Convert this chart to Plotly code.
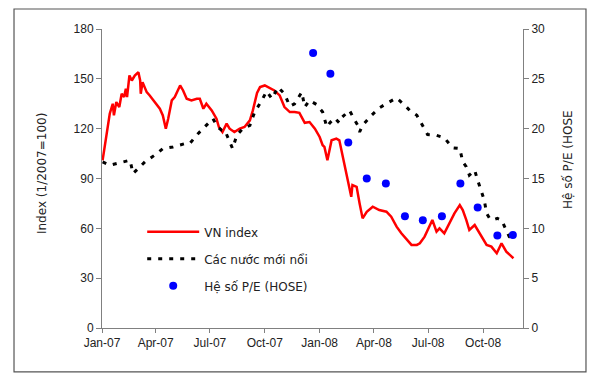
import plotly.graph_objects as go

# VN index (1/2007 = 100)
vn_dates = ["2007-01-02","2007-01-06","2007-01-11","2007-01-14","2007-01-19","2007-01-21","2007-01-25","2007-01-30",
            "2007-02-03","2007-02-07","2007-02-10","2007-02-12","2007-02-16","2007-02-20","2007-02-25","2007-03-03",
            "2007-03-06","2007-03-07","2007-03-10","2007-03-17","2007-03-22","2007-03-28","2007-04-03","2007-04-08",
            "2007-04-13","2007-04-18","2007-04-22","2007-04-28","2007-05-03","2007-05-12","2007-05-17","2007-05-23",
            "2007-05-31","2007-06-09","2007-06-14","2007-06-20","2007-06-25","2007-07-04","2007-07-12","2007-07-16",
            "2007-07-22","2007-07-29","2007-08-03","2007-08-11","2007-08-20","2007-08-28","2007-09-06","2007-09-11",
            "2007-09-18","2007-09-23","2007-10-01","2007-10-09","2007-10-17","2007-10-26","2007-11-03","2007-11-12",
            "2007-11-20","2007-11-28","2007-12-07","2007-12-15","2007-12-24","2008-01-01","2008-01-06","2008-01-09",
            "2008-01-14","2008-01-21","2008-01-29","2008-02-03","2008-02-08","2008-02-15","2008-02-23","2008-02-25",
            "2008-03-03","2008-03-08","2008-03-13","2008-03-20","2008-03-30","2008-04-10","2008-04-22","2008-04-30",
            "2008-05-09","2008-05-17","2008-05-26","2008-06-03","2008-06-12","2008-06-17","2008-06-25","2008-07-03",
            "2008-07-08","2008-07-15","2008-07-20","2008-07-28","2008-08-06","2008-08-14","2008-08-23","2008-08-28",
            "2008-09-03","2008-09-08","2008-09-17","2008-09-25","2008-09-30","2008-10-07","2008-10-15","2008-10-24",
            "2008-11-01","2008-11-09","2008-11-18","2008-11-21"]
vn_values = [101,111,121,129,135,128,136,133,
             141,139,144,139,152,149,152,154,
             149,141,148,142,140,137,134,132,
             128,120,126,137,139,146,143,138,
             137,138,138,132,135,131,126,121,
             118,123,120,118,120,121,125,131,
             141.5,145,146,144.5,143,140,133,130,
             130,129.5,123.5,124,120,115,110,109,
             101,113,114,113,104,93,79,86,
             85,75,66,70,73,71,70,67,
             61,57,53,50,50,51,55,61,
             65,58,60,57,63,69,74,71,
             65,59,62,57,54,50,49,45,
             51,46,43,42]

# Emerging markets index (Các nước mới nổi)
em_dates = ["2007-01-02","2007-01-14","2007-01-31","2007-02-17","2007-02-22","2007-03-05","2007-03-14","2007-04-03",
            "2007-04-13","2007-04-30","2007-05-20","2007-05-28","2007-06-11","2007-06-22","2007-07-06","2007-07-14",
            "2007-07-21","2007-07-26","2007-08-03","2007-08-08","2007-08-15","2007-08-25","2007-09-06","2007-09-14",
            "2007-09-26","2007-10-04","2007-10-13","2007-10-23","2007-11-03","2007-11-12","2007-11-20","2007-12-02",
            "2007-12-07","2007-12-15","2007-12-27","2008-01-06","2008-01-13","2008-01-18","2008-01-26","2008-02-03",
            "2008-02-08","2008-02-20","2008-02-29","2008-03-05","2008-03-08","2008-03-13","2008-03-28","2008-04-10",
            "2008-04-24","2008-05-09","2008-05-23","2008-05-31","2008-06-12","2008-06-22","2008-06-30","2008-07-15",
            "2008-07-28","2008-08-11","2008-08-23","2008-08-28","2008-09-03","2008-09-08","2008-09-17","2008-09-21",
            "2008-09-28","2008-10-03","2008-10-07","2008-10-12","2008-10-17","2008-10-25","2008-11-01","2008-11-06",
            "2008-11-14","2008-11-18"]
em_values = [100,98,99.5,101,93,97,100,105,
             108,109,111,111,117,121,126,121,
             119,119,112,108,116,120,122,130,
             137,142.5,138,145,141,133.5,135,142,
             133,137,134.5,130,121,123.5,126.5,123.5,
             127,131,125,122,118,122,128,132.5,
             135.5,138.5,134,131,128,122,116.5,116,
             114.5,108.5,108,100,97,92,95,90,
             82,77,69,66,65,66,65,61,
             55,54]

# P/E ratio HOSE (right axis)
pe_dates = ["2007-12-21","2008-01-19","2008-02-18","2008-03-20","2008-04-21","2008-05-23",
            "2008-06-22","2008-07-24","2008-08-24","2008-09-22","2008-10-25","2008-11-20"]
pe_values = [27.6,25.5,18.6,15.0,14.5,11.2,10.8,11.2,14.5,12.1,9.27,9.34]

x_tickvals = ["2007-01-01","2007-04-01","2007-07-01","2007-10-01","2008-01-01","2008-04-01","2008-07-01","2008-10-01"]
x_ticktext = ["Jan-07","Apr-07","Jul-07","Oct-07","Jan-08","Apr-08","Jul-08","Oct-08"]

FONT = "Liberation Sans, Arial, sans-serif"
TFONT = "DejaVu Sans, sans-serif"
AX = "#808080"

fig = go.Figure()
fig.add_trace(go.Scatter(x=vn_dates, y=vn_values, mode="lines", name="VN index",
                         line=dict(color="#ff0000", width=2.5), legendgroup="a"))
fig.add_trace(go.Scatter(x=em_dates, y=em_values, mode="lines", name="Các nước mới nổi",
                         line=dict(color="#000000", width=3, dash="4px,7px"), legendgroup="b"))
fig.add_trace(go.Scatter(x=pe_dates, y=pe_values, mode="markers", name="Hệ số P/E (HOSE)", yaxis="y2",
                         marker=dict(color="#0000ff", size=8), legendgroup="c"))

fig.update_layout(
    width=588, height=375,
    margin=dict(l=94, r=73, t=21, b=55),
    paper_bgcolor="white", plot_bgcolor="white",
    font=dict(family=FONT, size=12, color="#222222"),
    showlegend=True,
    legend=dict(x=0.0955, y=0.37, xanchor="left", yanchor="top", bgcolor="rgba(0,0,0,0)",
                font=dict(family=TFONT, size=12), tracegroupgap=8, traceorder="grouped", itemwidth=52),
    xaxis=dict(type="date", range=["2007-01-01", "2008-12-07"], tickvals=x_tickvals, ticktext=x_ticktext,
               showgrid=False, zeroline=False, showline=True, linecolor=AX, linewidth=1,
               ticks="outside", ticklen=4, tickcolor=AX, tickfont=dict(size=12)),
    yaxis=dict(range=[0, 180], tickvals=[0, 30, 60, 90, 120, 150, 180], showgrid=False, zeroline=False,
               showline=True, linecolor=AX, linewidth=1, ticks="outside", ticklen=5, tickcolor=AX,
               tickfont=dict(size=12)),
    yaxis2=dict(range=[0, 30], tickvals=[0, 5, 10, 15, 20, 25, 30], overlaying="y", side="right",
                showgrid=False, zeroline=False, showline=True, linecolor=AX, linewidth=1,
                ticks="outside", ticklen=5, tickcolor=AX, tickfont=dict(size=12)),
    annotations=[
        dict(text="Index (1/2007=100)", xref="paper", yref="paper", x=-0.1425, y=0.515,
             textangle=-90, showarrow=False, font=dict(family=TFONT, size=12), xanchor="center", yanchor="middle"),
        dict(text="Hệ số P/E (HOSE", xref="paper", yref="paper", x=1.107, y=0.562,
             textangle=-90, showarrow=False, font=dict(family=TFONT, size=12), xanchor="center", yanchor="middle"),
    ],
    shapes=[dict(type="rect", xref="paper", yref="paper", x0=-0.209, x1=1.1496, y0=-0.147, y1=1.0669,
                 line=dict(color="#555555", width=1.2), layer="below")],
)

fig.write_html("out.html")
